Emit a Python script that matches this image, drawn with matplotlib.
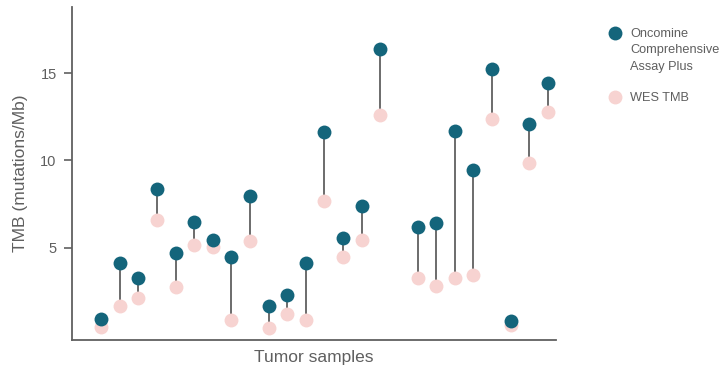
import matplotlib
matplotlib.use("Agg")
import matplotlib.pyplot as plt
from matplotlib.lines import Line2D

plt.rcParams['font.family'] = ['Liberation Sans', 'DejaVu Sans']

positions = [0, 1, 2, 3, 4, 5, 6, 7, 8, 9, 10, 11, 12, 13, 14, 15,
             17, 18, 19, 20, 21, 22, 23, 24]
oncomine = [0.9, 4.1, 3.25, 8.37, 4.66, 6.49, 5.42, 4.45, 7.95, 1.66, 2.27, 4.14,
            11.65, 5.56, 7.39, 16.38,
            6.15, 6.43, 11.67, 9.42, 15.23, 0.8, 12.08, 14.43]
wes = [0.44, 1.62, 2.13, 6.57, 2.75, 5.15, 5.02, 0.84, 5.35, 0.41, 1.18, 0.84,
       7.64, 4.47, 5.44, 12.61,
       3.28, 2.82, 3.26, 3.45, 12.36, 0.57, 9.86, 12.76]
yticks = [5, 10, 15]
series_labels = ["Oncomine\nComprehensive\nAssay Plus", "WES TMB"]

dark = "#14657b"
pink = "#f7d3d1"
grey = "#606060"
textc = "#5f5f5f"

fig = plt.figure(figsize=(7.2, 3.71), dpi=100)
ax = fig.add_axes([0.1, 0.0836, 0.672, 0.898])

for x, a, b in zip(positions, oncomine, wes):
    ax.plot([x, x], [a, b], color=grey, lw=1.3, zorder=1)
ax.plot(positions, wes, 'o', color=pink, ms=10, mec='none', zorder=2)
ax.plot(positions, oncomine, 'o', color=dark, ms=10, mec='none', zorder=3)

ax.set_xlim(-1.56, 24.43)
ax.set_ylim(-0.3, 18.8)
ax.set_yticks(yticks)
ax.set_yticklabels([str(t) for t in yticks])
ax.set_xticks([])
for s in ['top', 'right']:
    ax.spines[s].set_visible(False)
for s in ['left', 'bottom']:
    ax.spines[s].set_color(grey)
    ax.spines[s].set_linewidth(1.3)
ax.tick_params(axis='y', direction='out', length=6, width=1.2, color=grey,
               labelcolor=textc, labelsize=10.5, pad=5)
ax.set_ylabel("TMB (mutations/Mb)", color=textc, fontsize=12.5, labelpad=9)
ax.set_xlabel("Tumor samples", color=textc, fontsize=12.5, labelpad=7)

# legend drawn manually in figure coordinates
W, H = 720.0, 371.0
leg_items = [(dark, series_labels[0], 33), (pink, series_labels[1], 97)]
for col, lab, ypix in leg_items:
    fig.add_artist(Line2D([615 / W], [1 - ypix / H], marker='o', ls='none',
                          color=col, ms=10, mec='none', transform=fig.transFigure))
    fig.text(630 / W, 1 - (ypix - 5) / H, lab, color=textc, fontsize=9.2,
             va='top', ha='left', linespacing=1.5)

fig.savefig("out.png", dpi=100)
